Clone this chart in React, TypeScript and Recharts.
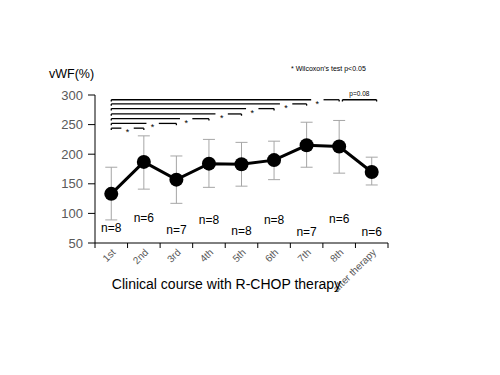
import React from 'react';
import { LineChart, Line, XAxis, YAxis, ErrorBar, ReferenceLine, ReferenceDot, Label } from 'recharts';

const categories = ['1st', '2nd', '3rd', '4th', '5th', '6th', '7th', '8th', 'after therapy'];
const means = [133, 187, 157, 184, 183, 190, 215, 213, 170];
const upper = [178, 231, 197, 225, 220, 222, 254, 257, 195];
const lower = [89, 141, 117, 144, 146, 157, 178, 168, 148];
const nCounts = [8, 6, 7, 8, 8, 8, 7, 6, 6];
const nLabelY = [75, 93, 72, 89, 70, 89, 69, 90, 69];
const yTicks = [50, 100, 150, 200, 250, 300];

// significance brackets: 1st vs category index (1-based)
const bracketTargets = [2, 3, 4, 5, 6, 7, 8];
const bracketLevels = [244, 252, 260, 268, 277, 285, 292];
const starPositions = [1.5, 2.27, 3.3, 4.39, 5.33, 6.37, 7.33];
const pBracket = { from: 8.1, to: 9.15, level: 292, text: 'p=0.08', labelX: 8.62, labelY: 300 };

const data = categories.map((c, i) => ({
  x: i + 1,
  name: c,
  mean: means[i],
  err: [means[i] - lower[i], upper[i] - means[i]],
}));

const xTicks: number[] = [];
for (let i = 0; i <= categories.length; i++) {
  xTicks.push(i + 0.5);
  if (i < categories.length) xTicks.push(i + 1);
}

const FONT = '"Liberation Sans", Arial, sans-serif';

const XTick = (props: any) => {
  const { x, y, payload } = props;
  const v = payload.value;
  if (v % 1 !== 0) {
    return <line x1={x} x2={x} y1={y} y2={y + 5} stroke="#000" strokeWidth={1} />;
  }
  const label = categories[v - 1];
  return (
    <text
      transform={`translate(${x + 5},${y + 10}) rotate(-45)`}
      textAnchor="end"
      fontSize={10}
      fontFamily={FONT}
      fill="#595959"
      stroke="none"
    >
      {label}
    </text>
  );
};

const GAP = 0.19;
const TICK = 3;

export default function App() {
  const segs: any[] = [];
  bracketTargets.forEach((t, i) => {
    const lv = bracketLevels[i];
    const s = starPositions[i];
    segs.push(
      <ReferenceLine key={`a${i}`} segment={[{ x: 1, y: lv }, { x: s - GAP, y: lv }]} stroke="#000" strokeWidth={1.3} />,
      <ReferenceLine key={`b${i}`} segment={[{ x: s + GAP, y: lv }, { x: t, y: lv }]} stroke="#000" strokeWidth={1.3} />,
      <ReferenceLine key={`c${i}`} segment={[{ x: 1, y: lv }, { x: 1, y: lv - TICK }]} stroke="#000" strokeWidth={1.3} />,
      <ReferenceLine key={`d${i}`} segment={[{ x: t, y: lv }, { x: t, y: lv - TICK }]} stroke="#000" strokeWidth={1.3} />,
      <ReferenceDot
        key={`s${i}`}
        x={s}
        y={lv}
        r={0}
        shape={(p: any) => (
          <text x={p.cx} y={p.cy + 7} textAnchor="middle" fontSize={9} fontFamily={FONT} fill="#000" stroke="none">*</text>
        )}
      />
    );
  });

  return (
    <div style={{ position: 'absolute', left: 0, top: 0, width: 500, height: 375, background: '#fff' }}>
      <div style={{ position: 'absolute', left: 49, top: 68, fontSize: 12.5, fontFamily: FONT, color: '#000', lineHeight: 1 }}>vWF(%)</div>
      <div style={{ position: 'absolute', left: 291, top: 65, fontSize: 7, fontFamily: FONT, color: '#000', lineHeight: 1, whiteSpace: 'nowrap' }}>* Wilcoxon’s test p&lt;0.05</div>
      <LineChart width={500} height={375} data={data} margin={{ top: 95, right: 112, bottom: 92, left: 35 }}>
        <XAxis
          dataKey="x"
          type="number"
          domain={[0.5, 9.5]}
          ticks={xTicks}
          interval={0}
          tick={<XTick />}
          tickLine={false}
          tickSize={0}
          tickMargin={0}
          height={40}
          stroke="#000"
          axisLine={{ stroke: '#000' }}
        >
          <Label value="Clinical course with R-CHOP therapy" position="bottom" offset={-4} dx={-15} fontSize={14} fontFamily={FONT} fill="#000" />
        </XAxis>
        <YAxis
          type="number"
          domain={[50, 300]}
          ticks={yTicks}
          width={60}
          tickSize={7}
          tickMargin={5}
          axisLine={{ stroke: '#000' }}
          tickLine={{ stroke: '#000' }}
          tick={{ fill: '#595959', fontSize: 13, fontFamily: FONT }}
        />
        {segs}
        <ReferenceLine segment={[{ x: pBracket.from, y: pBracket.level }, { x: pBracket.to, y: pBracket.level }]} stroke="#000" strokeWidth={1.3} />
        <ReferenceLine segment={[{ x: pBracket.from, y: pBracket.level }, { x: pBracket.from, y: pBracket.level - TICK }]} stroke="#000" strokeWidth={1.3} />
        <ReferenceLine segment={[{ x: pBracket.to, y: pBracket.level }, { x: pBracket.to, y: pBracket.level - TICK }]} stroke="#000" strokeWidth={1.3} />
        <ReferenceDot
          x={pBracket.labelX}
          y={pBracket.labelY}
          r={0}
          shape={(p: any) => (
            <text x={p.cx} y={p.cy + 1} textAnchor="middle" fontSize={6.5} fontFamily={FONT} fill="#000" stroke="none">{pBracket.text}</text>
          )}
        />
        {categories.map((c, i) => (
          <ReferenceDot
            key={`n${i}`}
            x={i + 1}
            y={nLabelY[i]}
            r={0}
            shape={(p: any) => (
              <text x={p.cx} y={p.cy + 4} textAnchor="middle" fontSize={12} fontFamily={FONT} fill="#000" stroke="none">{`n=${nCounts[i]}`}</text>
            )}
          />
        ))}
        <Line
          dataKey="mean"
          stroke="#000"
          strokeWidth={3}
          dot={{ r: 7, fill: '#000', stroke: '#000', strokeWidth: 0 }}
          isAnimationActive={false}
        >
          <ErrorBar dataKey="err" stroke="#a6a6a6" strokeWidth={1} width={6} />
        </Line>
      </LineChart>
    </div>
  );
}
